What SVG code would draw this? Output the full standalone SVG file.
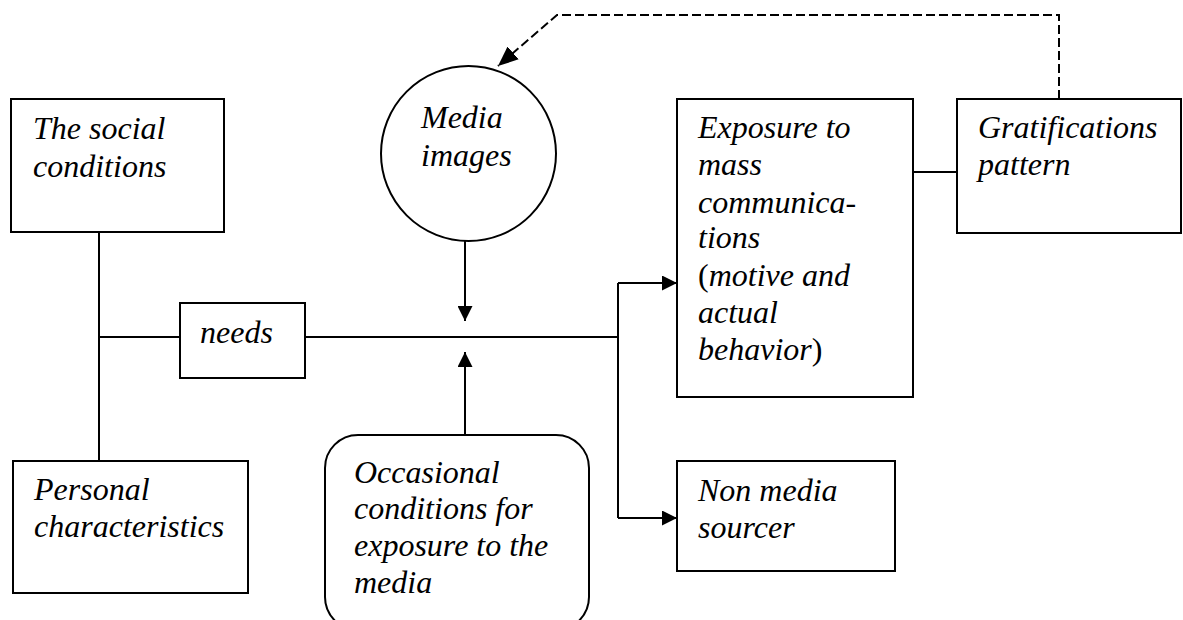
<svg xmlns="http://www.w3.org/2000/svg" width="1183" height="620" viewBox="0 0 1183 620">
<style>
.box{fill:#fff;stroke:#000;stroke-width:2}
.ln{fill:none;stroke:#000;stroke-width:2}
.dash{fill:none;stroke:#000;stroke-width:2;stroke-dasharray:9 4}
text{font-family:"Liberation Serif","Times New Roman",serif;font-size:32px;font-style:italic;fill:#000}
.up{font-style:normal}
</style>
<defs>
<marker id="ah" markerUnits="userSpaceOnUse" markerWidth="15" markerHeight="15" refX="15" refY="7.5" orient="auto" viewBox="0 0 15 15">
<path d="M0,0 L15,7.5 L0,15 z" fill="#000"/>
</marker>
<marker id="ahd" markerUnits="userSpaceOnUse" markerWidth="20" markerHeight="17" refX="20" refY="8.5" orient="auto" viewBox="0 0 20 17">
<path d="M0,0 L20,8.5 L0,17 z" fill="#000"/>
</marker>
</defs>
<rect width="1183" height="620" fill="#fff"/>
<g id="connectors">
<line class="ln" x1="99" y1="232" x2="99" y2="461"/>
<line class="ln" x1="99" y1="337" x2="180" y2="337"/>
<line class="ln" x1="305" y1="337" x2="618" y2="337"/>
<line class="ln" x1="618" y1="283" x2="618" y2="518"/>
<line class="ln" x1="618" y1="283" x2="677" y2="283" marker-end="url(#ah)"/>
<line class="ln" x1="618" y1="518" x2="677" y2="518" marker-end="url(#ah)"/>
<line class="ln" x1="465" y1="241" x2="465" y2="321" marker-end="url(#ah)"/>
<line class="ln" x1="465" y1="435" x2="465" y2="352" marker-end="url(#ah)"/>
<line class="ln" x1="913" y1="172" x2="957" y2="172"/>
<path class="dash" d="M1059,99 V15 H557 L498,66" marker-end="url(#ahd)"/>
</g>
<g id="social">
<rect class="box" x="11" y="99" width="213" height="133"/>
<text x="33" y="139">The social</text>
<text x="33" y="177">conditions</text>
</g>
<g id="personal">
<rect class="box" x="13" y="461" width="235" height="132"/>
<text x="34" y="500">Personal</text>
<text x="34" y="537">characteristics</text>
</g>
<g id="needs">
<rect class="box" x="180" y="303" width="125" height="75"/>
<text x="200" y="343">needs</text>
</g>
<g id="media">
<circle class="box" cx="468.5" cy="153.5" r="87.5"/>
<text x="421" y="128">Media</text>
<text x="421" y="166">images</text>
</g>
<g id="occasional">
<rect class="box" x="325" y="435" width="264" height="195" rx="33" ry="33"/>
<text x="354" y="483">Occasional</text>
<text x="354" y="519">conditions for</text>
<text x="354" y="556">exposure to the</text>
<text x="354" y="593">media</text>
</g>
<g id="exposure">
<rect class="box" x="677" y="99" width="236" height="298"/>
<text x="698" y="138">Exposure to</text>
<text x="698" y="175">mass</text>
<text x="698" y="213">communica-</text>
<text x="698" y="248">tions</text>
<text x="698" y="286"><tspan class="up">(</tspan>motive and</text>
<text x="698" y="323">actual</text>
<text x="698" y="360">behavior<tspan class="up">)</tspan></text>
</g>
<g id="nonmedia">
<rect class="box" x="677" y="461" width="218" height="110"/>
<text x="698" y="501">Non media</text>
<text x="698" y="538">sourcer</text>
</g>
<g id="gratifications">
<rect class="box" x="957" y="99" width="224" height="134"/>
<text x="978" y="138">Gratifications</text>
<text x="978" y="175">pattern</text>
</g>
</svg>
